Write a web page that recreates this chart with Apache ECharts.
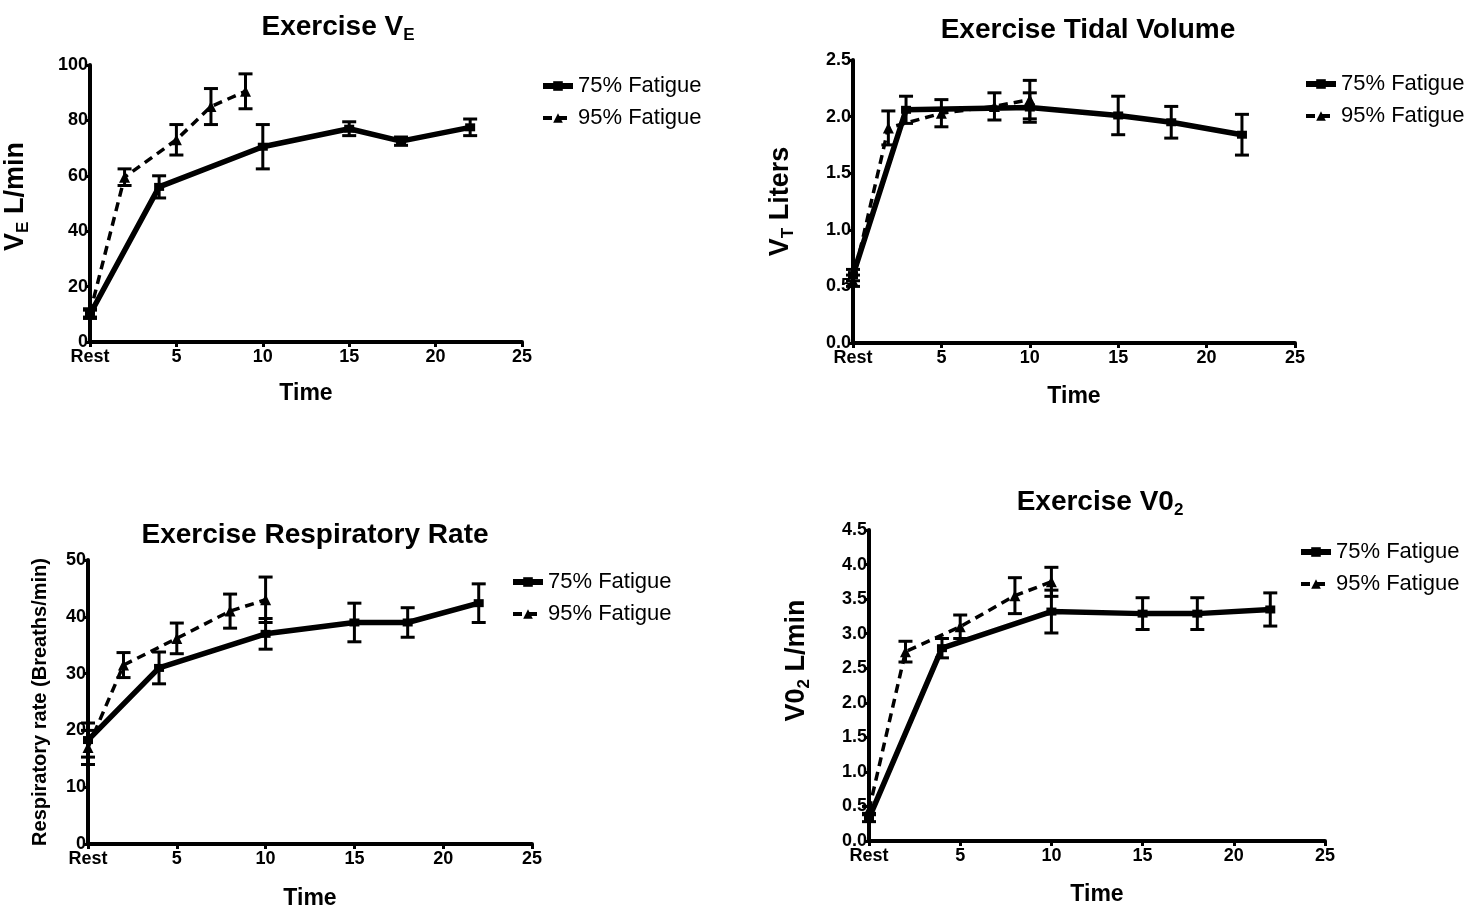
<!DOCTYPE html>
<html>
<head>
<meta charset="utf-8">
<script src="https://cdn.jsdelivr.net/npm/echarts@6/dist/echarts.min.js"></script>
<style>html,body{margin:0;padding:0;background:#fff}#c{width:1484px;height:911px}</style>
</head>
<body>
<div id="c"></div>
<script>
// ---- Data ----
const xTicks = [0, 5, 10, 15, 20, 25];
const xTickLabels = ['Rest', '5', '10', '15', '20', '25'];

// Exercise VE
const ve75Time = [0, 4, 10, 15, 18, 22];
const ve75 = [10, 56, 70.5, 77, 72.5, 77.5];
const ve75Err = [1.5, 4, 8, 2.5, 1.5, 3];
const ve95Time = [0, 2, 5, 7, 9];
const ve95 = [10.5, 59.5, 73, 85, 90.5];
const ve95Err = [1.5, 3, 5.5, 6.5, 6.3];

// Exercise Tidal Volume
const vt75Time = [0, 3, 10, 15, 18, 22];
const vt75 = [0.6, 2.06, 2.08, 2.01, 1.95, 1.84];
const vt75Err = [0.05, 0.12, 0.13, 0.17, 0.14, 0.18];
const vt95Time = [0, 2, 5, 8, 10];
const vt95 = [0.55, 1.9, 2.03, 2.09, 2.15];
const vt95Err = [0.05, 0.15, 0.12, 0.12, 0.17];

// Exercise Respiratory Rate
const rr75Time = [0, 4, 10, 15, 18, 22];
const rr75 = [18.3, 31, 37, 39, 39, 42.4];
const rr75Err = [3, 2.8, 2.7, 3.4, 2.6, 3.4];
const rr95Time = [0, 2, 5, 8, 10];
const rr95 = [17, 31.5, 36.2, 41, 43];
const rr95Err = [3, 2.2, 2.7, 3, 4];

// Exercise VO2
const vo75Time = [0, 4, 10, 15, 18, 22];
const vo75 = [0.33, 2.79, 3.32, 3.29, 3.29, 3.35];
const vo75Err = [0.05, 0.14, 0.31, 0.23, 0.23, 0.24];
const vo95Time = [0, 2, 5, 8, 10];
const vo95 = [0.45, 2.74, 3.1, 3.55, 3.75];
const vo95Err = [0.05, 0.15, 0.17, 0.26, 0.21];

const names = ['75% Fatigue', '95% Fatigue'];

// ---- Chart ----
const FONT = '"Liberation Sans", Arial, sans-serif';
const chart = echarts.init(document.getElementById('c'));

const panels = [
  {grid:{left:90, top:65, width:432, height:277}, ymax:100, yint:20, dec:0,
   t75:ve75Time, y75:ve75, e75:ve75Err, t95:ve95Time, y95:ve95, e95:ve95Err,
   yname:'{m|V}{s|E}{m| L/min}', ygap:58, ysize:27, ypad:[0,0,0,14], xgap:40,
   title:'{m|Exercise V}{s|E}', tx:333, ty:5, legend:{left:535, top:70}},
  {grid:{left:853, top:60, width:442, height:283}, ymax:2.5, yint:0.5, dec:1,
   t75:vt75Time, y75:vt75, e75:vt75Err, t95:vt95Time, y95:vt95, e95:vt95Err,
   yname:'{m|V}{s|T}{m| Liters}', ygap:56, ysize:27, ypad:[0,0,0,0], xgap:42,
   title:'{m|Exercise Tidal Volume}', tx:1083, ty:8, legend:{left:1298, top:68}},
  {grid:{left:88, top:560, width:444, height:284}, ymax:50, yint:10, dec:0,
   t75:rr75Time, y75:rr75, e75:rr75Err, t95:rr95Time, y95:rr95, e95:rr95Err,
   yname:'{r|Respiratory rate (Breaths/min)}', ygap:38, ysize:20, ypad:[0,0,0,0], xgap:43,
   title:'{m|Exercise Respiratory Rate}', tx:310, ty:513, legend:{left:505, top:566}},
  {grid:{left:869, top:530, width:456, height:311}, ymax:4.5, yint:0.5, dec:1,
   t75:vo75Time, y75:vo75, e75:vo75Err, t95:vo95Time, y95:vo95, e95:vo95Err,
   yname:'{m|V0}{s|2}{m| L/min}', ygap:56, ysize:27, ypad:[0,0,0,50], xgap:42,
   title:'{m|Exercise V0}{s|2}', tx:1095, ty:480, legend:{left:1293, top:536}}
];

function richSet(size){
  return {
    m:{fontSize:size, fontWeight:'bold', fontFamily:FONT, color:'#000', lineHeight:size+6},
    s:{fontSize:Math.round(size*0.62), fontWeight:'bold', fontFamily:FONT, color:'#000', lineHeight:Math.round(size*0.5), verticalAlign:'bottom'},
    r:{fontSize:size, fontWeight:'bold', fontFamily:FONT, color:'#000'}
  };
}

function errRender(params, api){
  const x = api.value(0), y = api.value(1), e = api.value(2);
  const p0 = api.coord([x, y - e]);
  const p1 = api.coord([x, y + e]);
  const w = 7;
  const st = {stroke:'#000', lineWidth:3};
  return {type:'group', children:[
    {type:'line', shape:{x1:p0[0], y1:p0[1], x2:p1[0], y2:p1[1]}, style:st},
    {type:'line', shape:{x1:p0[0]-w, y1:p0[1], x2:p0[0]+w, y2:p0[1]}, style:st},
    {type:'line', shape:{x1:p1[0]-w, y1:p1[1], x2:p1[0]+w, y2:p1[1]}, style:st}
  ]};
}

const grids = [], xAxes = [], yAxes = [], series = [], titles = [], legends = [];
panels.forEach((p, i) => {
  grids.push(p.grid);
  xAxes.push({
    type:'value', gridIndex:i, min:0, max:25, interval:5,
    name:'Time', nameLocation:'middle', nameGap:p.xgap,
    nameTextStyle:{fontSize:23, fontWeight:'bold', fontFamily:FONT, color:'#000'},
    axisLine:{show:true, onZero:false, lineStyle:{color:'#000', width:4}},
    axisTick:{show:true, length:5, lineStyle:{color:'#000', width:3}},
    axisLabel:{margin:6, fontSize:18, fontWeight:'bold', fontFamily:FONT, color:'#000',
      formatter:v => xTickLabels[xTicks.indexOf(v)] ?? String(v)},
    splitLine:{show:false}
  });
  yAxes.push({
    type:'value', gridIndex:i, min:0, max:p.ymax, interval:p.yint,
    name:p.yname, nameLocation:'middle', nameGap:p.ygap, nameRotate:90,
    nameTextStyle:{rich:richSet(p.ysize), padding:p.ypad},
    axisLine:{show:true, onZero:false, lineStyle:{color:'#000', width:4}},
    axisTick:{show:true, length:5, lineStyle:{color:'#000', width:3}},
    axisLabel:{margin:2, fontSize:18, fontWeight:'bold', fontFamily:FONT, color:'#000',
      formatter:v => v.toFixed(p.dec)},
    splitLine:{show:false}
  });
  titles.push({
    text:p.title, left:p.tx, top:p.ty, textAlign:'center',
    textStyle:{rich:richSet(28)}
  });
  legends.push({
    data:[
      {name:names[0], lineStyle:{width:6}},
      {name:names[1], lineStyle:{width:4}}
    ],
    orient:'vertical', left:p.legend.left, top:p.legend.top,
    itemWidth:30, itemHeight:12, itemGap:10,
    textStyle:{fontSize:22, fontFamily:FONT, color:'#000'}
  });
  series.push({
    name:names[0], type:'line', xAxisIndex:i, yAxisIndex:i,
    data:p.t75.map((t, k) => [t, p.y75[k]]),
    symbol:'rect', symbolSize:[10, 8], showSymbol:true,
    lineStyle:{color:'#000', width:5.5}, itemStyle:{color:'#000'}, z:3
  });
  series.push({
    name:names[1], type:'line', xAxisIndex:i, yAxisIndex:i,
    data:p.t95.map((t, k) => [t, p.y95[k]]),
    symbol:'triangle', symbolSize:11, showSymbol:true,
    lineStyle:{color:'#000', width:3.5, type:[9, 6]}, itemStyle:{color:'#000'}, z:3
  });
  series.push({
    type:'custom', xAxisIndex:i, yAxisIndex:i, renderItem:errRender,
    data:p.t75.map((t, k) => [t, p.y75[k], p.e75[k]]), encode:{x:0, y:1}, z:2, silent:true
  });
  series.push({
    type:'custom', xAxisIndex:i, yAxisIndex:i, renderItem:errRender,
    data:p.t95.map((t, k) => [t, p.y95[k], p.e95[k]]), encode:{x:0, y:1}, z:2, silent:true
  });
});

chart.setOption({
  backgroundColor:'#fff',
  animation:false,
  title:titles, legend:legends, grid:grids, xAxis:xAxes, yAxis:yAxes, series:series
});
</script>
</body>
</html>
